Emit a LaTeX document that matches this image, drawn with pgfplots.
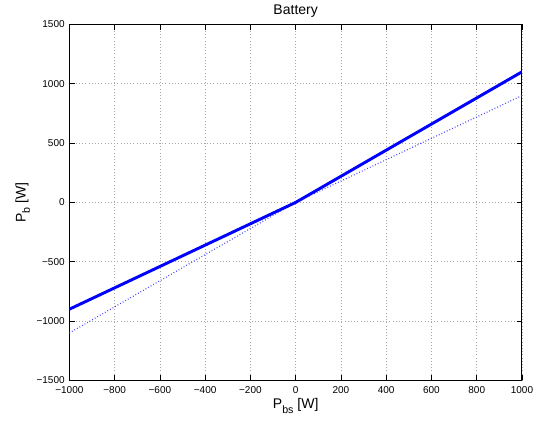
\documentclass[border=0pt]{standalone}
\usepackage{fontspec}
\setmainfont{Liberation Sans}
\usepackage{pgfplots}
\pgfplotsset{compat=1.18}
\begin{document}
\begin{tikzpicture}
\begin{axis}[
  scale only axis,
  width=339.4pt, height=267pt,
  xmin=-1000, xmax=1000, ymin=-1500, ymax=1500,
  xtick={-1000,-800,...,1000},
  ytick={-1500,-1000,...,1500},
  xticklabels={−1000,−800,−600,−400,−200,0,200,400,600,800,1000},
  yticklabels={−1500,−1000,−500,0,500,1000,1500},
  tick label style={font=\fontsize{7.5pt}{9pt}\selectfont},
  tick align=inside,
  major tick length=4pt,
  tick style={black, line width=0.5pt},
  axis line style={black, line width=0.75pt},
  grid=major,
  major grid style={gray!70, dotted, line width=0.5pt},
  title={Battery},
  title style={font=\fontsize{10.5pt}{12pt}\selectfont, yshift=-4pt},
  xlabel={P\raisebox{-0.6ex}{\fontsize{8pt}{9pt}\selectfont bs} [W]},
  ylabel={P\raisebox{-0.6ex}{\fontsize{8pt}{9pt}\selectfont b} [W]},
  label style={font=\fontsize{10.5pt}{12pt}\selectfont},
  xlabel style={yshift=3pt},
  ylabel style={yshift=-2pt},
  xticklabel style={yshift=-1pt},
]
\addplot[blue!75, line width=0.9pt, dash pattern=on 0.6pt off 1.6pt] coordinates {(-1000,-1100) (0,0) (1000,900)};
\addplot[blue, line width=2.2pt] coordinates {(-1000,-900) (0,0) (1000,1100)};
\end{axis}
\path (current axis.south west) ++(-52pt,-30pt) coordinate (bl);
\path (current axis.north east) ++(13.5pt,17.25pt) coordinate (tr);
\useasboundingbox (bl) rectangle (tr);
\end{tikzpicture}
\end{document}
